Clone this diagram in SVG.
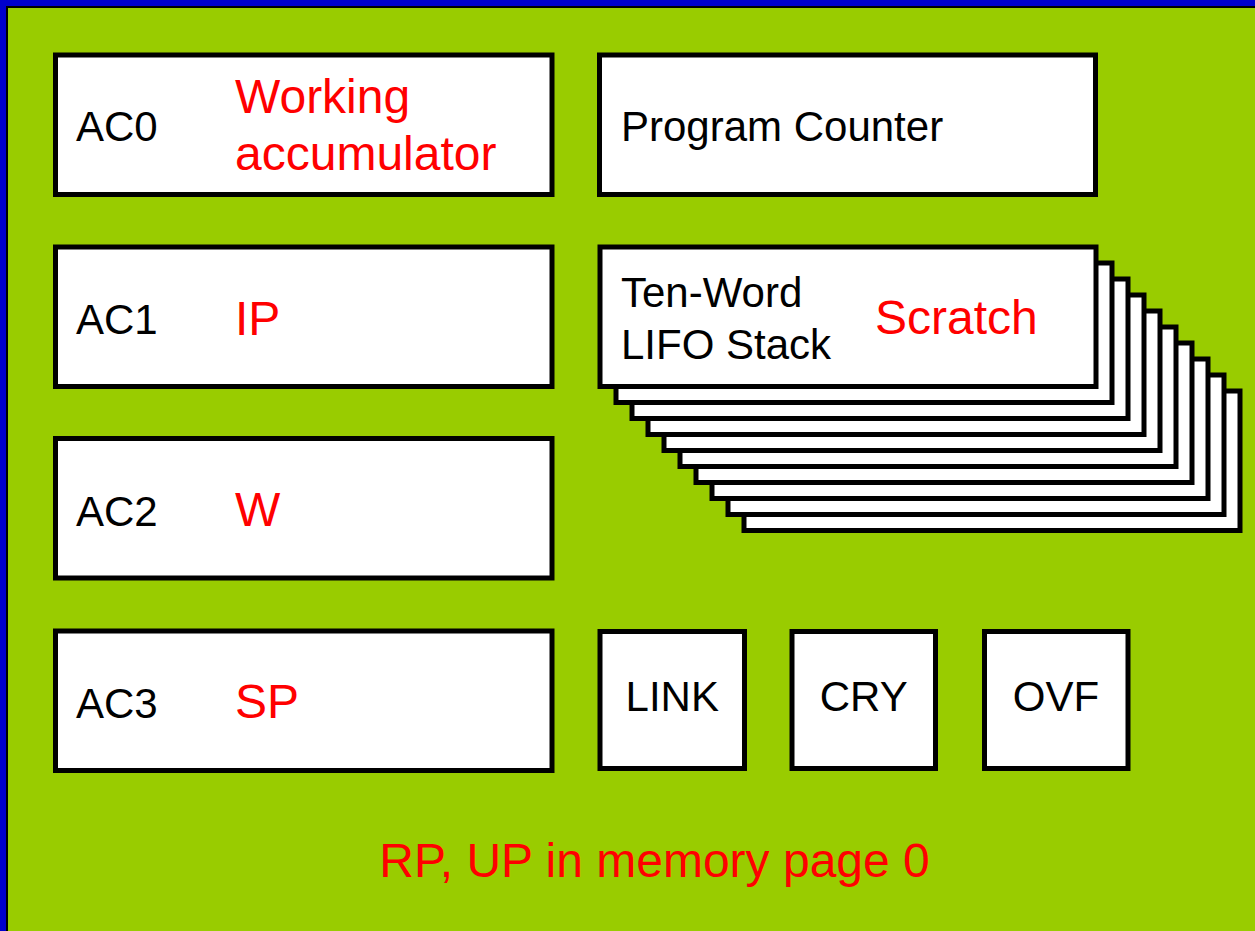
<svg xmlns="http://www.w3.org/2000/svg" width="1255" height="931" viewBox="0 0 1255 931">
<style>
.box{fill:#fff;stroke:#000;stroke-width:5}
.t{font-family:"Liberation Sans",Arial,sans-serif;font-size:42px;fill:#000}
.r{font-family:"Liberation Sans",Arial,sans-serif;font-size:48px;fill:#f00}
</style>
<defs>
<rect id="layer" class="box" width="496" height="139.5"/>
</defs>
<g id="background">
<rect x="0" y="0" width="1255" height="931" fill="#0000cc"/>
<rect x="6" y="6" width="1260" height="940" fill="#000"/>
<rect x="8" y="8" width="1260" height="940" fill="#99cc00"/>
</g>
<g id="ac0">
<rect class="box" x="55.5" y="55" width="496.5" height="139.5"/>
<text class="t" x="76" y="141">AC0</text>
<text class="r" x="235" y="113">Working</text>
<text class="r" x="235" y="170">accumulator</text>
</g>
<g id="pc">
<rect class="box" x="599.5" y="55" width="496" height="139.5"/>
<text class="t" x="621" y="141">Program Counter</text>
</g>
<g id="ac1">
<rect class="box" x="55.5" y="247" width="496.5" height="139.5"/>
<text class="t" x="76" y="334">AC1</text>
<text class="r" x="235" y="335">IP</text>
</g>
<g id="stack">
<use href="#layer" x="744" y="391"/>
<use href="#layer" x="728" y="375"/>
<use href="#layer" x="712" y="359"/>
<use href="#layer" x="696" y="343"/>
<use href="#layer" x="680" y="327"/>
<use href="#layer" x="664" y="311"/>
<use href="#layer" x="648" y="295"/>
<use href="#layer" x="632" y="279"/>
<use href="#layer" x="616" y="263"/>
<use href="#layer" x="600" y="247"/>
<text class="t" x="621" y="307">Ten-Word</text>
<text class="t" x="621" y="359">LIFO Stack</text>
<text class="r" x="875" y="334">Scratch</text>
</g>
<g id="ac2">
<rect class="box" x="55.5" y="438.5" width="496.5" height="139.5"/>
<text class="t" x="76" y="526">AC2</text>
<text class="r" x="235" y="526">W</text>
</g>
<g id="ac3">
<rect class="box" x="55.5" y="631" width="496.5" height="139.5"/>
<text class="t" x="76" y="718">AC3</text>
<text class="r" x="235" y="718">SP</text>
</g>
<g id="link">
<rect class="box" x="600" y="631.5" width="144.5" height="137"/>
<text class="t" x="672.25" y="711" text-anchor="middle">LINK</text>
</g>
<g id="cry">
<rect class="box" x="792" y="631.5" width="143.5" height="137"/>
<text class="t" x="863.75" y="711" text-anchor="middle">CRY</text>
</g>
<g id="ovf">
<rect class="box" x="984.5" y="631.5" width="143.5" height="137"/>
<text class="t" x="1056" y="711" text-anchor="middle">OVF</text>
</g>
<g id="note">
<text class="r" x="654.5" y="877" text-anchor="middle">RP, UP in memory page 0</text>
</g>
<g id="connectors"/>
</svg>
